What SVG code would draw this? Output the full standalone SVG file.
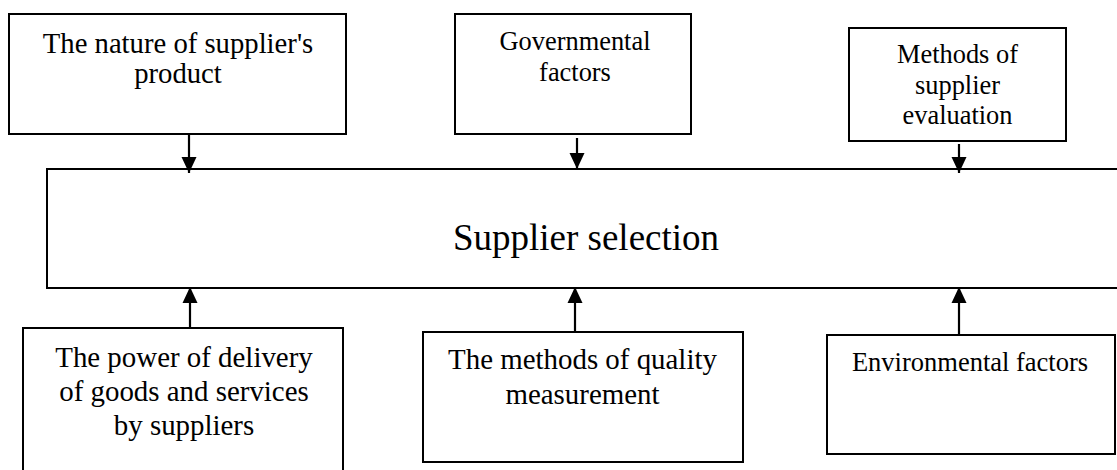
<svg xmlns="http://www.w3.org/2000/svg" width="1117" height="470" viewBox="0 0 1117 470">
  <style>
    .box { fill: #fff; stroke: #000; stroke-width: 2; }
    .lbl { font-family: "Liberation Serif", "Times New Roman", serif; fill: #000; text-anchor: middle; }
    .link { stroke: #000; stroke-width: 2.2; fill: none; }
  </style>
  <defs>
    <marker id="head" viewBox="0 0 16 16" refX="16" refY="8" markerWidth="16" markerHeight="16" markerUnits="userSpaceOnUse" orient="auto">
      <path d="M0,0.5 L16,8 L0,15.5 Z" fill="#000"/>
    </marker>
  </defs>
  <rect width="1117" height="470" fill="#fff"/>

  <!-- central node -->
  <g id="supplier-selection">
    <rect class="box" x="47" y="169" width="1090" height="119"/>
    <text class="lbl" x="586" y="250" font-size="37">Supplier selection</text>
  </g>

  <!-- upper factors -->
  <g id="nature-product">
    <rect class="box" x="9" y="14" width="337" height="120"/>
    <text class="lbl" x="178" y="53" font-size="28.7">The nature of supplier's</text>
    <text class="lbl" x="178" y="83" font-size="28.7">product</text>
  </g>
  <g id="governmental">
    <rect class="box" x="455" y="14" width="236" height="120"/>
    <text class="lbl" x="575" y="50" font-size="26.4">Governmental</text>
    <text class="lbl" x="575" y="81" font-size="26.4">factors</text>
  </g>
  <g id="evaluation-methods">
    <rect class="box" x="849" y="28" width="217" height="113"/>
    <text class="lbl" x="957.5" y="63" font-size="26.4">Methods of</text>
    <text class="lbl" x="957.5" y="94" font-size="26.4">supplier</text>
    <text class="lbl" x="957.5" y="124" font-size="26.4">evaluation</text>
  </g>

  <!-- lower factors -->
  <g id="delivery-power">
    <rect class="box" x="23" y="328" width="320" height="160"/>
    <text class="lbl" x="184" y="367" font-size="28.9">The power of delivery</text>
    <text class="lbl" x="184" y="401" font-size="28.9">of goods and services</text>
    <text class="lbl" x="184" y="435" font-size="28.9">by suppliers</text>
  </g>
  <g id="quality-measurement">
    <rect class="box" x="423" y="332" width="320" height="130"/>
    <text class="lbl" x="582.5" y="369" font-size="28.9">The methods of quality</text>
    <text class="lbl" x="582.5" y="404" font-size="28.9">measurement</text>
  </g>
  <g id="environmental">
    <rect class="box" x="827" y="335" width="288" height="119"/>
    <text class="lbl" x="970" y="371" font-size="26.5">Environmental factors</text>
  </g>

  <!-- connectors -->
  <g id="connectors">
    <line class="link" x1="189" y1="134" x2="189" y2="173" marker-end="url(#head)"/>
    <line class="link" x1="577" y1="138" x2="577" y2="169" marker-end="url(#head)"/>
    <line class="link" x1="959" y1="144" x2="959" y2="173" marker-end="url(#head)"/>
    <line class="link" x1="190" y1="328" x2="190" y2="287" marker-end="url(#head)"/>
    <line class="link" x1="575" y1="332" x2="575" y2="287" marker-end="url(#head)"/>
    <line class="link" x1="959" y1="335" x2="959" y2="287" marker-end="url(#head)"/>
  </g>
</svg>
